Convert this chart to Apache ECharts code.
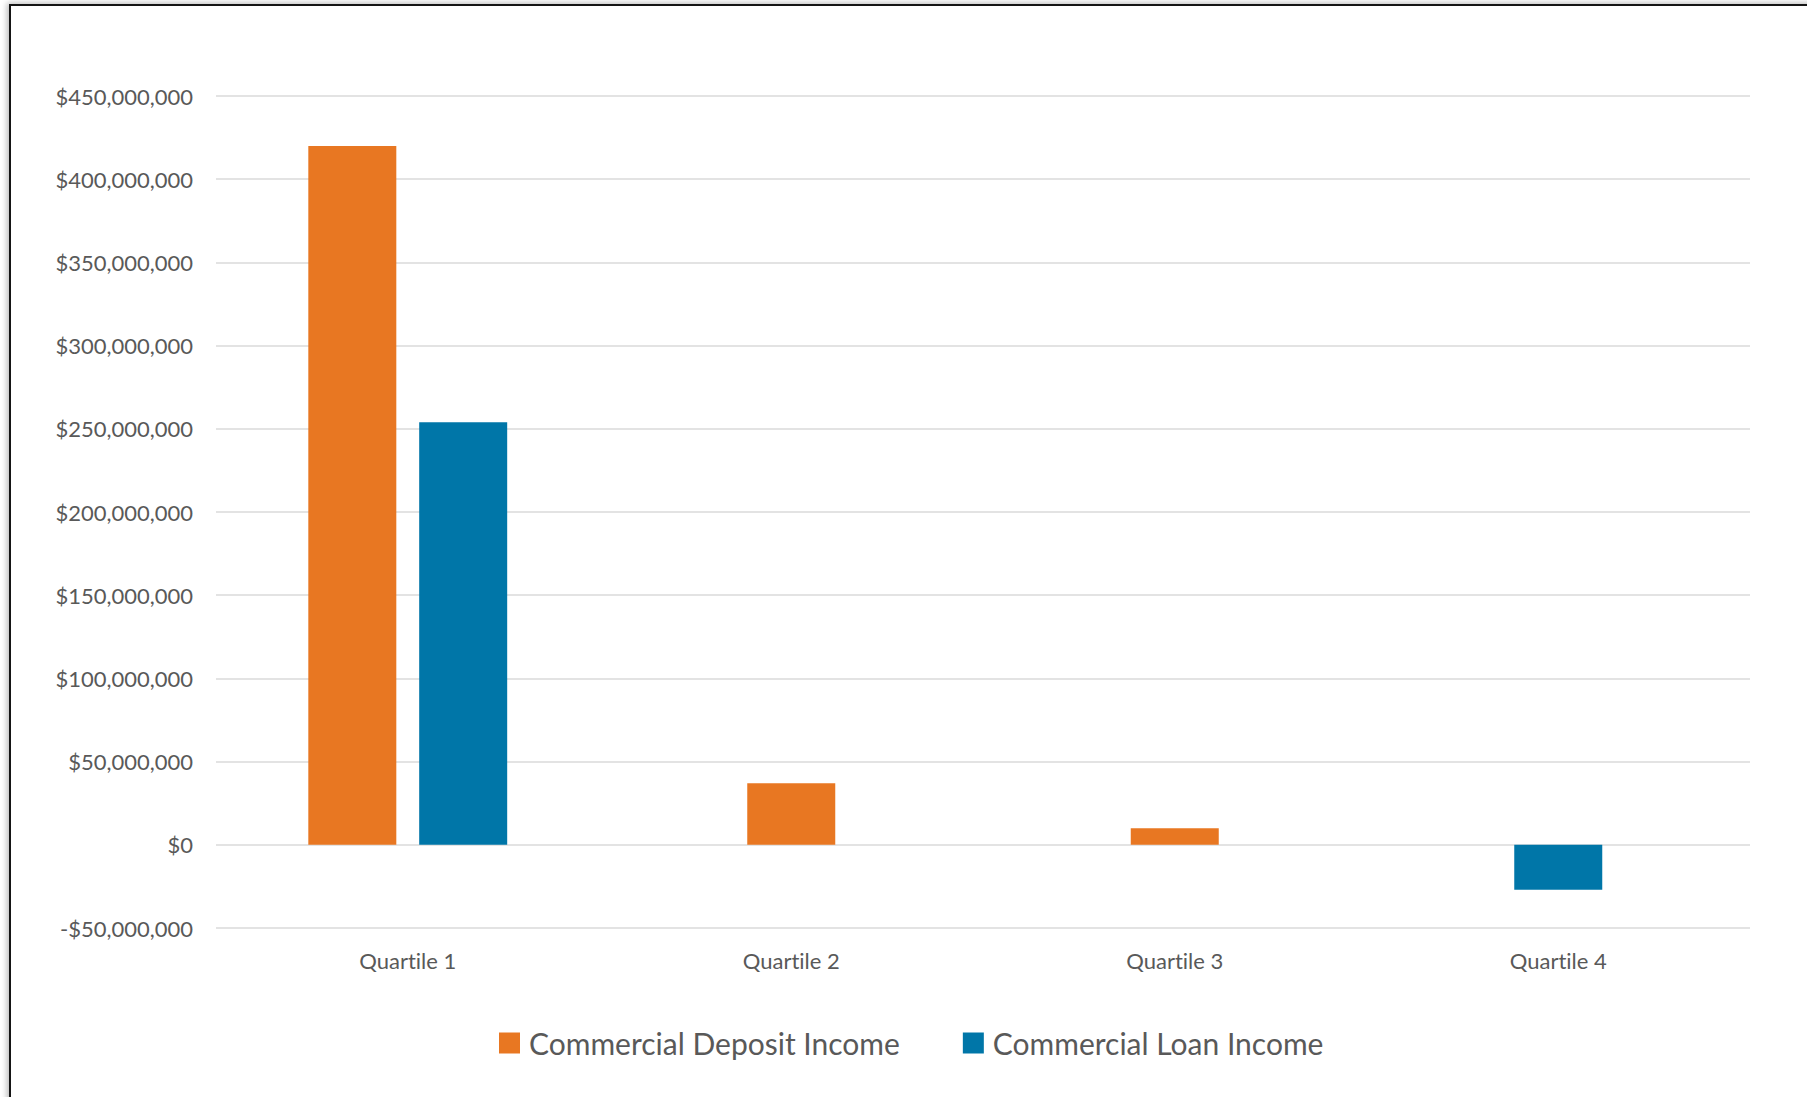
<!DOCTYPE html>
<html>
<head>
<meta charset="utf-8">
<title>Commercial Deposit and Loan Income by Quartile</title>
<script src="https://cdn.jsdelivr.net/npm/echarts@6/dist/echarts.min.js"></script>
<style>
  html, body { margin: 0; padding: 0; background: #ffffff; overflow: hidden; }
  #chart {
    position: absolute; left: 0; top: 0; width: 1807px; height: 1097px;
    font-variant-ligatures: none;
  }
  #chart text { font-variant-ligatures: none; }
  #frame {
    position: absolute; left: 9px; top: 4px; width: 2400px; height: 2400px;
    border-left: 2px solid #151515; border-top: 2px solid #151515;
    box-shadow: -2px -1px 6px rgba(0, 0, 0, 0.28);
    pointer-events: none;
  }
</style>
</head>
<body>
<div id="chart"></div>
<div id="frame"></div>
<script>
// Income by customer quartile (USD)
const categories = ['Quartile 1', 'Quartile 2', 'Quartile 3', 'Quartile 4'];
const depositIncome = [420000000, 37000000, 10000000, null];
const loanIncome = [254000000, null, null, -27000000];

const seriesNames = ['Commercial Deposit Income', 'Commercial Loan Income'];
const seriesColors = ['#E87722', '#0076A8'];

// Y axis scale
const yMin = -50000000;
const yMax = 450000000;
const yStep = 50000000;

// Quartiles that have both incomes show a side-by-side pair;
// quartiles with a single income show one bar centred on the category.
const hasBoth = i => depositIncome[i] != null && loanIncome[i] != null;
const pairedDeposit = depositIncome.map((v, i) => hasBoth(i) ? v : null);
const pairedLoan = loanIncome.map((v, i) => hasBoth(i) ? v : null);
const singleDeposit = depositIncome.map((v, i) => hasBoth(i) ? null : v);
const singleLoan = loanIncome.map((v, i) => hasBoth(i) ? null : v);

const textColor = '#595959';
const gridColor = '#dadada';
const font = 'Lato, "Open Sans", sans-serif';

function money(v) {
  const s = '$' + Math.abs(v).toLocaleString('en-US');
  return v < 0 ? '-' + s : s;
}

const chart = echarts.init(document.getElementById('chart'), null, { renderer: 'svg' });

const barBase = { type: 'bar', barWidth: 88 };

chart.setOption({
  animation: false,
  backgroundColor: '#ffffff',
  textStyle: { fontFamily: font },
  grid: { left: 216, right: 57, top: 96, bottom: 169, containLabel: false },
  legend: {
    data: seriesNames,
    left: 499,
    top: 1028,
    padding: 0,
    icon: 'rect',
    itemWidth: 21,
    itemHeight: 21,
    itemGap: 63,
    textStyle: { color: textColor, fontSize: 30, fontFamily: font, padding: [0, 0, 0, 4] }
  },
  xAxis: [
    {
      type: 'category',
      data: categories,
      axisLine: { show: false },
      axisTick: { show: false },
      axisLabel: { color: textColor, fontSize: 22, fontFamily: font, margin: 21 }
    },
    {
      type: 'category',
      data: categories,
      show: false
    }
  ],
  yAxis: {
    type: 'value',
    min: yMin,
    max: yMax,
    interval: yStep,
    axisLine: { show: false },
    axisTick: { show: false },
    splitLine: { show: true, lineStyle: { color: gridColor, width: 1.5 } },
    axisLabel: { color: textColor, fontSize: 22, fontFamily: font, margin: 23, formatter: money }
  },
  series: [
    Object.assign({}, barBase, {
      name: seriesNames[0], xAxisIndex: 0, data: pairedDeposit,
      itemStyle: { color: seriesColors[0] }, barGap: '26%'
    }),
    Object.assign({}, barBase, {
      name: seriesNames[1], xAxisIndex: 0, data: pairedLoan,
      itemStyle: { color: seriesColors[1] }, barGap: '26%'
    }),
    Object.assign({}, barBase, {
      name: seriesNames[0], xAxisIndex: 1, data: singleDeposit,
      itemStyle: { color: seriesColors[0] }, barGap: '-100%'
    }),
    Object.assign({}, barBase, {
      name: seriesNames[1], xAxisIndex: 1, data: singleLoan,
      itemStyle: { color: seriesColors[1] }, barGap: '-100%'
    })
  ]
});
</script>
</body>
</html>
